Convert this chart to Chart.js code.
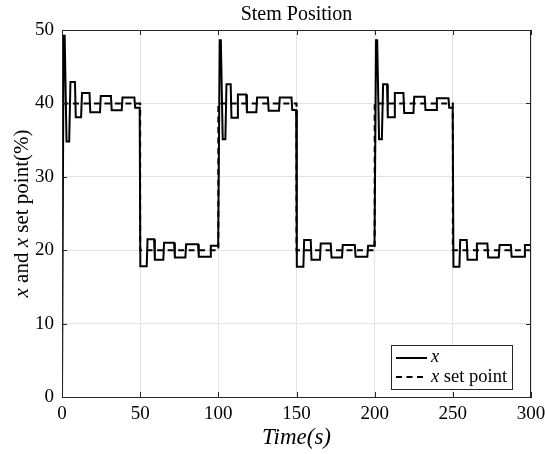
<!DOCTYPE html>
<html>
<head>
<meta charset="utf-8">
<script src="https://cdn.jsdelivr.net/npm/chart.js@4"></script>
<style>
  html, body { margin: 0; padding: 0; background: #fff; }
  #wrap { width: 545px; height: 454px; }
</style>
</head>
<body>
<div id="wrap"><canvas id="stem-canvas" width="545" height="454"></canvas></div>
<script>
// stem position x (%)
const xTime = [
  0, 1.0, 1.7, 2.9, 4.6, 5.4, 8.3, 8.8, 12.2, 12.8, 17.6, 18.1, 24.3, 24.8, 31.3, 31.8, 38.2, 38.7, 46.3, 46.8, 49.7,
  50.1, 54.2, 54.7, 58.9, 59.4, 64.8, 65.3, 71.7, 72.2, 78.9, 79.4, 87.0, 87.5, 94.7, 95.2, 99.9,
  100.9, 101.6, 102.8, 104.5, 105.2, 107.9, 108.4, 112.0, 112.5, 117.8, 118.3, 124.3, 124.8, 131.7, 132.2, 138.8, 139.3, 146.8, 147.3, 149.8,
  150.2, 154.4, 154.9, 159.1, 159.6, 165.0, 165.5, 171.9, 172.4, 179.1, 179.6, 187.3, 187.8, 195.3, 195.8, 199.9,
  200.9, 201.6, 202.8, 204.6, 205.4, 207.9, 208.4, 212.4, 212.9, 218.4, 218.9, 224.8, 225.3, 232.0, 232.5, 239.3, 239.8, 247.2, 247.7, 249.9,
  250.4, 254.2, 254.7, 258.9, 259.4, 264.9, 265.4, 272.1, 272.6, 279.4, 279.9, 287.1, 287.6, 295.6, 296.1, 300
];
const xValue = [
  0, 49.2, 49.2, 34.8, 34.8, 42.9, 42.9, 38.1, 38.1, 41.4, 41.4, 38.8, 38.8, 41.0, 41.0, 39.05, 39.05, 40.8, 40.8, 39.4, 39.4,
  17.8, 17.8, 21.5, 21.5, 18.7, 18.7, 21.0, 21.0, 19.0, 19.0, 20.8, 20.8, 19.1, 19.1, 20.6, 20.6,
  48.6, 48.6, 35.1, 35.1, 42.6, 42.6, 38.05, 38.05, 41.2, 41.2, 38.8, 38.8, 40.8, 40.8, 39.0, 39.0, 40.8, 40.8, 39.1, 39.1,
  17.75, 17.75, 21.4, 21.4, 18.7, 18.7, 20.9, 20.9, 19.0, 19.0, 20.7, 20.7, 19.1, 19.1, 20.6, 20.6,
  48.6, 48.6, 35.1, 35.1, 42.6, 42.6, 38.1, 38.1, 41.4, 41.4, 38.7, 38.7, 40.9, 40.9, 39.1, 39.1, 40.7, 40.7, 39.4, 39.4,
  17.75, 17.75, 21.4, 21.4, 18.7, 18.7, 20.9, 20.9, 19.0, 19.0, 20.7, 20.7, 19.1, 19.1, 20.7, 20.7
];

// set point (square wave)
const spTime = [0, 0, 50, 50, 100, 100, 150, 150, 200, 200, 250, 250, 300];
const spValue = [0, 40, 40, 20, 20, 40, 40, 20, 20, 40, 40, 20, 20];

const xTicks = [0, 50, 100, 150, 200, 250, 300];
const yTicks = [0, 10, 20, 30, 40, 50];

const SERIF = '"Liberation Serif", "Times New Roman", serif';

const toPoints = (ts, vs) => ts.map((t, i) => ({ x: t, y: vs[i] }));

// draws title, axis labels (mixed italic), box, inward ticks and legend
const decorations = {
  id: 'decorations',
  afterDraw(chart) {
    const { ctx, chartArea: a, scales } = chart;
    const ink = '#262626';
    ctx.save();

    // box
    ctx.strokeStyle = ink;
    ctx.lineWidth = 1;
    ctx.strokeRect(a.left + 0.5, a.top + 0.5, a.right - a.left - 1, a.bottom - a.top);

    // inward ticks
    ctx.beginPath();
    xTicks.forEach(v => {
      const px = Math.round(scales.x.getPixelForValue(v)) + 0.5;
      ctx.moveTo(px, a.bottom); ctx.lineTo(px, a.bottom - 5);
      ctx.moveTo(px, a.top); ctx.lineTo(px, a.top + 5);
    });
    yTicks.forEach(v => {
      const py = Math.round(scales.y.getPixelForValue(v)) + 0.5;
      ctx.moveTo(a.left, py); ctx.lineTo(a.left + 5, py);
      ctx.moveTo(a.right, py); ctx.lineTo(a.right - 5, py);
    });
    ctx.stroke();

    ctx.fillStyle = '#000';
    ctx.textBaseline = 'alphabetic';

    // title
    ctx.font = `20px ${SERIF}`;
    ctx.textAlign = 'center';
    ctx.fillText('Stem Position', (a.left + a.right) / 2, 20);

    // x label
    ctx.font = `italic 23px ${SERIF}`;
    ctx.fillText('Time(s)', (a.left + a.right) / 2, 444);

    // y label, rotated, pieces with mixed styles
    const parts = [
      { t: 'x', it: true }, { t: ' and ', it: false }, { t: 'x', it: true },
      { t: ' set point(%)', it: false }
    ];
    const fontFor = p => (p.it ? 'italic ' : '') + `21px ${SERIF}`;
    let total = 0;
    parts.forEach(p => { ctx.font = fontFor(p); total += ctx.measureText(p.t).width; });
    ctx.translate(28, (a.top + a.bottom) / 2);
    ctx.rotate(-Math.PI / 2);
    ctx.textAlign = 'left';
    let cx = -total / 2;
    parts.forEach(p => {
      ctx.font = fontFor(p);
      ctx.fillText(p.t, cx, 0);
      cx += ctx.measureText(p.t).width;
    });
    ctx.setTransform(1, 0, 0, 1, 0, 0);

    // legend
    const lx = 391, ly = 345, lw = 121, lh = 44;
    ctx.fillStyle = '#fff';
    ctx.fillRect(lx, ly, lw, lh);
    ctx.strokeStyle = ink;
    ctx.lineWidth = 1;
    ctx.strokeRect(lx + 0.5, ly + 0.5, lw, lh);

    ctx.strokeStyle = '#000';
    ctx.lineWidth = 2;
    ctx.beginPath();
    ctx.moveTo(396, 358); ctx.lineTo(427, 358);
    ctx.stroke();
    ctx.setLineDash([6, 4.5]);
    ctx.beginPath();
    ctx.moveTo(396, 377); ctx.lineTo(427, 377);
    ctx.stroke();
    ctx.setLineDash([]);

    ctx.fillStyle = '#000';
    ctx.font = `italic 18.5px ${SERIF}`;
    ctx.fillText('x', 431, 362);
    ctx.fillText('x', 431, 382);
    const w = ctx.measureText('x').width;
    ctx.font = `18.5px ${SERIF}`;
    ctx.fillText(' set point', 431 + w, 382);

    ctx.restore();
  }
};

const ctx = document.getElementById('stem-canvas').getContext('2d');
new Chart(ctx, {
  type: 'line',
  data: {
    datasets: [
      {
        label: 'x',
        data: toPoints(xTime, xValue),
        borderColor: '#000',
        borderWidth: 2,
        pointRadius: 0,
        tension: 0,
        order: 1
      },
      {
        label: 'x set point',
        data: toPoints(spTime, spValue),
        borderColor: '#000',
        borderWidth: 2,
        borderDash: [6, 4.5],
        pointRadius: 0,
        tension: 0,
        order: 2
      }
    ]
  },
  options: {
    responsive: false,
    animation: false,
    layout: { padding: { top: 30, right: 14, left: 0, bottom: 0 } },
    plugins: {
      legend: { display: false },
      title: { display: false },
      tooltip: { enabled: false }
    },
    scales: {
      x: {
        type: 'linear',
        min: 0,
        max: 300,
        afterBuildTicks: s => { s.ticks = xTicks.map(v => ({ value: v })); },
        afterFit: s => { s.height = 57; s.paddingRight = 0; s.paddingLeft = 0; },
        grid: { color: '#e3e3e3', drawTicks: false },
        border: { color: '#262626' },
        ticks: {
          color: '#000',
          padding: 6,
          maxRotation: 0,
          font: { family: SERIF, size: 19 }
        }
      },
      y: {
        min: 0,
        max: 50,
        afterBuildTicks: s => { s.ticks = yTicks.map(v => ({ value: v })); },
        afterFit: s => { s.width = 62; s.paddingTop = 0; s.paddingBottom = 0; },
        grid: { color: '#e3e3e3', drawTicks: false },
        border: { color: '#262626' },
        ticks: {
          color: '#000',
          padding: 8,
          font: { family: SERIF, size: 19 }
        }
      }
    }
  },
  plugins: [decorations]
});
</script>
</body>
</html>
